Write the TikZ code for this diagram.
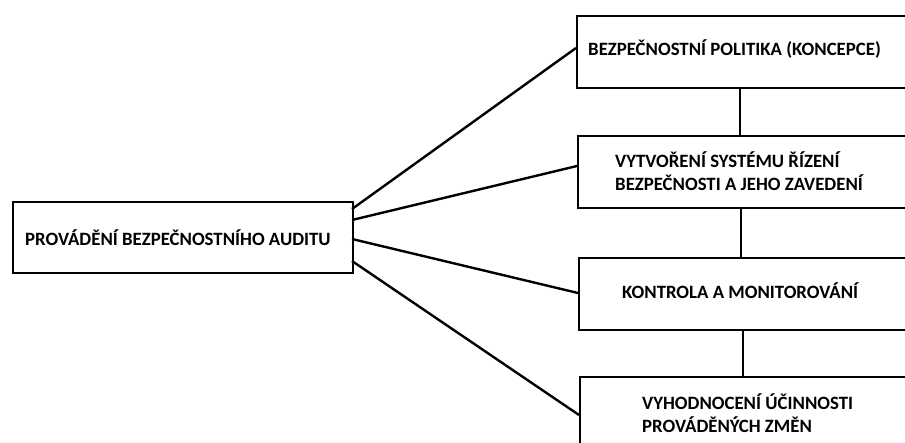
\documentclass[tikz,border=0pt]{standalone}
\usepackage{fontspec}
\setmainfont{Carlito}
\begin{document}
\begin{tikzpicture}[x=1pt,y=-1pt,
  box/.style={draw=black,line width=2.4pt,rectangle,inner sep=0pt,anchor=north west},
  label/.style={anchor=west,inner sep=0pt,align=left,
    font=\fontsize{18.8}{23}\selectfont\bfseries},
  link/.style={draw=black,line width=2.4pt}]
\useasboundingbox (0,0) rectangle (905,443);
\clip (0,0) rectangle (905,443);

% main box on the left
\node[box,minimum width=340pt,minimum height=71pt] (audit) at (12,201) {};
\node[label] (tAudit) at (25,238) {PROVÁDĚNÍ BEZPEČNOSTNÍHO AUDITU};

% chain of steps on the right
\node[box,minimum width=360pt,minimum height=72pt] (s1) at (576,15) {};
\node[box,minimum width=360pt,minimum height=72pt] (s2) at (577,135) {};
\node[box,minimum width=360pt,minimum height=72pt] (s3) at (578,257) {};
\node[box,minimum width=360pt,minimum height=90pt] (s4) at (579,376) {};

\node[label] (t1) at (588,49) {BEZPEČNOSTNÍ POLITIKA (KONCEPCE)};
\node[label] (t2) at (615,171.5) {VYTVOŘENÍ SYSTÉMU ŘÍZENÍ\\BEZPEČNOSTI A JEHO ZAVEDENÍ};
\node[label] (t3) at (622,291) {KONTROLA A MONITOROVÁNÍ};
\node[label] (t4) at (642,413.5) {VYHODNOCENÍ ÚČINNOSTI\\PROVÁDĚNÝCH ZMĚN};

% vertical links between the steps
\draw[link] (s1.south west) ++(164,0) coordinate (v1a) -- (v1a |- s2.north);
\draw[link] (s2.south west) ++(164,0) coordinate (v2a) -- (v2a |- s3.north);
\draw[link] (s3.south west) ++(165,0) coordinate (v3a) -- (v3a |- s4.north);

% fan of connectors from the audit box
\coordinate (a1) at (352,209);
\coordinate (a2) at (352,220);
\coordinate (a3) at (352,239);
\coordinate (a4) at (352,261);
\coordinate (e1) at (576,48);
\coordinate (e2) at (577,166);
\coordinate (e3) at (578,293);
\coordinate (e4) at (579,415);
\draw[link] (a1) -- (e1);
\draw[link] (a2) -- (e2);
\draw[link] (a3) -- (e3);
\draw[link] (a4) -- (e4);
\end{tikzpicture}
\end{document}
